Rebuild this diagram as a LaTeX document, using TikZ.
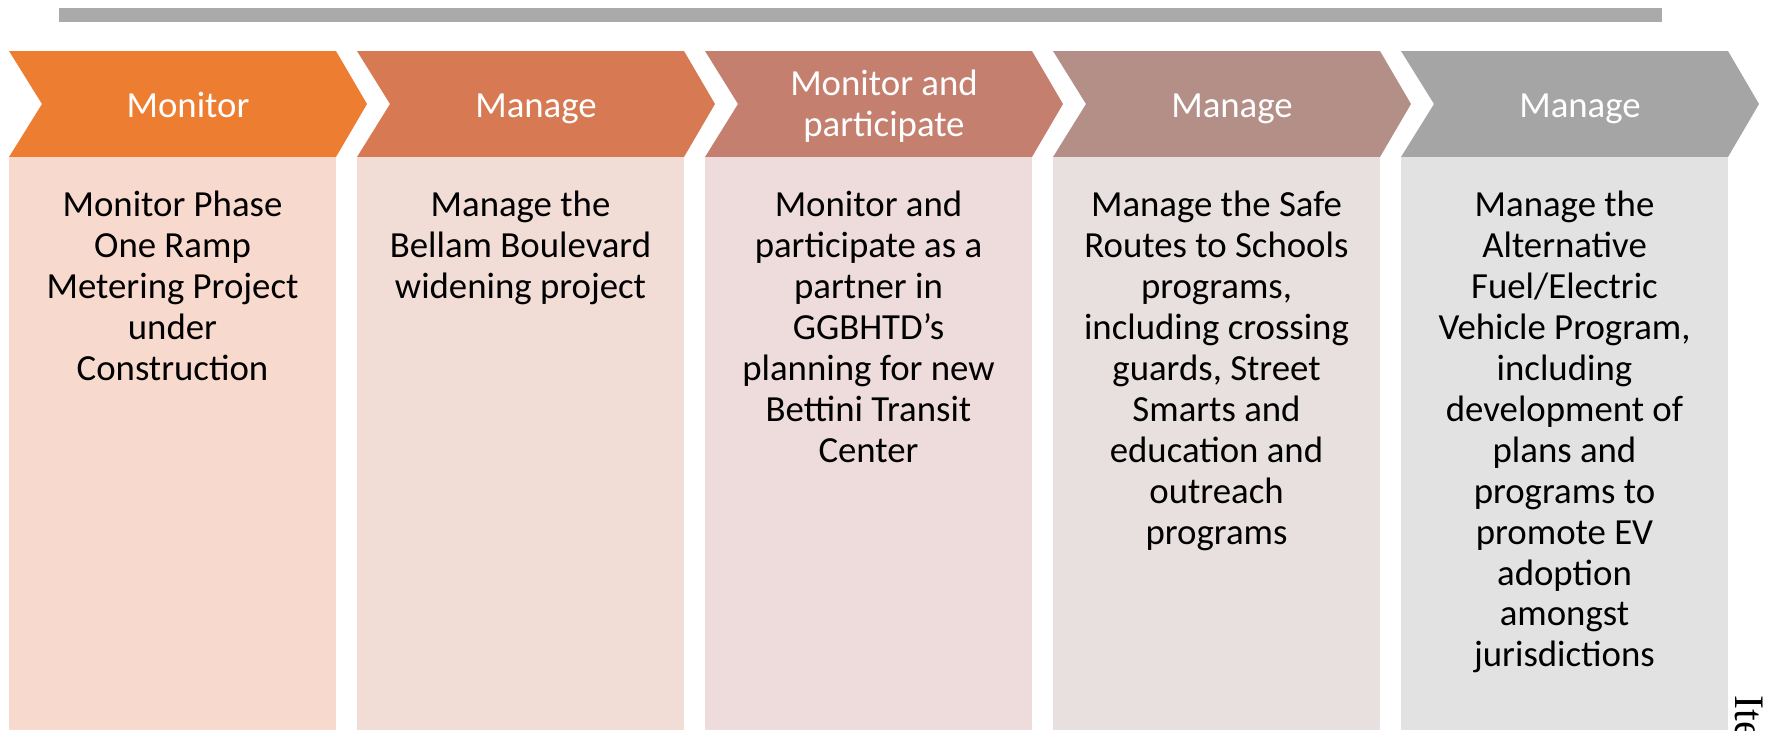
\documentclass[tikz,border=0pt]{standalone}
\usepackage{fontspec}
\setmainfont{Carlito}
\newfontfamily\pagefont{Liberation Serif}
\usepackage{tikz}
\definecolor{headA}{RGB}{237,125,49}
\definecolor{headB}{RGB}{215,122,83}
\definecolor{headC}{RGB}{196,127,111}
\definecolor{headD}{RGB}{179,143,136}
\definecolor{headE}{RGB}{165,165,165}
\definecolor{bodyA}{RGB}{248,217,206}
\definecolor{bodyB}{RGB}{242,220,214}
\definecolor{bodyC}{RGB}{237,220,219}
\definecolor{bodyD}{RGB}{232,223,223}
\definecolor{bodyE}{RGB}{226,226,226}
\definecolor{barcol}{RGB}{170,170,170}
\newcommand{\colfont}{\fontsize{18.4}{20.45}\selectfont}
\newcommand{\chevron}[2]{\fill[#2] (#1,51) -- ++(327,0) -- ++(31,53) -- ++(-31,53) -- ++(-327,0) -- ++(33,-53) -- cycle;}
\newcommand{\colbody}[2]{\fill[#2] (#1,157) rectangle ++(327,573);}

\begin{document}
\begin{tikzpicture}[x=0.5pt,y=-0.5pt]
			\useasboundingbox (0,0) rectangle (1767,730);
			\fill[barcol] (59,8) rectangle (1662,22);
			\chevron{9}{headA}
			\chevron{357}{headB}
			\chevron{705}{headC}
			\chevron{1053}{headD}
			\chevron{1401}{headE}
			\colbody{9}{bodyA}
			\colbody{357}{bodyB}
			\colbody{705}{bodyC}
			\colbody{1053}{bodyD}
			\colbody{1401}{bodyE}
			\begin{scope}[font=\colfont]
			\tikzstyle{every node}=[inner sep=0pt,align=center,execute at begin node=\strut,execute at end node=\strut]
			\tikzstyle{head}=[text=white]
			\tikzstyle{body}=[anchor=north,text=black]
			\node[head] (H_1) at (188,109) {Monitor};
			\node[head] (H_2) at (536,109) {Manage};
			\node[head] (H_3) at (884,109) {Monitor and\\participate};
			\node[head] (H_4) at (1232,109) {Manage};
			\node[head] (H_5) at (1580,109) {Manage};
			\node[body] (B_1) at (172.5,191) {Monitor Phase\\One Ramp\\Metering Project\\under\\Construction};
			\node[body] (B_2) at (520.5,191) {Manage the\\Bellam Boulevard\\widening project};
			\node[body] (B_3) at (868.5,191) {Monitor and\\participate as a\\partner in\\GGBHTD’s\\planning for new\\Bettini Transit\\Center};
			\node[body] (B_4) at (1216.5,191) {Manage the Safe\\Routes to Schools\\programs,\\including crossing\\guards, Street\\Smarts and\\education and\\outreach\\programs};
			\node[body] (B_5) at (1564.5,191) {Manage the\\Alternative\\Fuel/Electric\\Vehicle Program,\\including\\development of\\plans and\\programs to\\promote EV\\adoption\\amongst\\jurisdictions};
			\end{scope}
			\node[rotate=-90,anchor=base west,inner sep=0pt,font=\pagefont\fontsize{21}{24}\selectfont] (P_1) at (1735,695) {Ite};
		\end{tikzpicture}
\end{document}
